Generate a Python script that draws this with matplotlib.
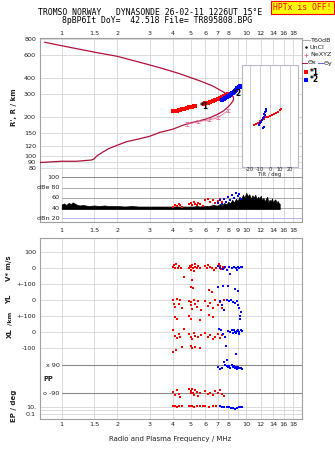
import numpy as np
import matplotlib
matplotlib.use("Agg")
import matplotlib.pyplot as plt
from matplotlib.transforms import blended_transform_factory as blend

# ---------------- data ----------------
freq_ticks = [1, 1.5, 2, 3, 4, 5, 6, 7, 8, 9, 10, 12, 14, 16, 18]
freq_labels_outer = ["1", "1.5", "2", "3", "4", "5", "6", "7", "8", "", "10", "12", "14", "16", "18"]
freq_labels_mid = ["1", "1.5", "2", "3", "4", "5", "6", "7", "8", "9", "10", "12", "14", "16", "18"]
height_ticks = [800, 600, 400, 300, 200, 150, 120, 100, 90, 80]

# electron density profile: bottomside up to the peak, then topside back down in frequency
profile_f = [0.758, 1.0, 1.2, 1.45, 1.5, 1.55, 1.65, 1.8, 2.0, 2.25, 2.6, 3.0, 3.4, 4.0, 4.5,
             5.0, 5.5, 6.0, 6.5, 7.0, 7.5, 8.0, 8.3, 8.5, 8.55, 8.5, 8.3, 8.0, 7.5, 6.6,
             5.6, 4.3, 3.4, 2.66, 2.0, 1.5, 1.0, 0.81]
profile_h = [89, 91, 91, 93, 95, 100, 106, 114, 121, 129, 135, 142, 152, 161, 172,
             180, 186, 192, 200, 210, 222, 240, 255, 268, 278, 288, 294, 297, 313, 347,
             381, 435, 481, 529, 589, 635, 711, 756]

# NeXYZ points with their error bars
nexyz_f = [4.8, 5.5, 6.3, 7.0, 8.0]
nexyz_h = [176, 184, 190, 197, 225]
nexyz_err = [6, 5, 5, 5, 6]

# echo traces (virtual height)
trace1_f = [4.0, 4.1, 4.2, 4.3, 4.4, 4.5, 4.6, 4.8, 4.9, 5.0, 5.1, 5.2, 5.3, 5.9, 6.0, 6.2,
            6.4, 6.6, 6.8, 7.0, 7.2, 7.4, 7.6, 7.8, 8.0]
trace1_h = [222, 224, 223, 226, 228, 229, 231, 236, 238, 240, 239, 242, 244, 252, 255, 258,
            262, 266, 270, 275, 280, 284, 290, 295, 300]
trace2_f = [7.4, 7.6, 7.7, 7.9, 8.0, 8.1, 8.2, 8.3, 8.4, 8.5, 8.6, 8.7, 8.8, 8.9, 9.0, 9.1,
            9.2, 9.3, 9.45]
trace2_h = [269, 276, 279, 286, 290, 293, 296, 300, 305, 309, 313, 318, 324, 333, 336, 340,
            343, 345, 339]

# tilt inset (real height)
tilt1_deg = [-16, -14, -12, -10, -8, -6, -4, -2, 0, 2, 4, 6, 8, 10, 11]
tilt1_h = [172, 177, 180, 186, 190, 193, 198, 200, 204, 207, 211, 215, 220, 226, 229]
tilt2_deg = [-11, -10, -9, -8, -7, -6, -5, -6, -5, -4, -4, -6, -7]
tilt2_h = [173, 178, 184, 190, 196, 200, 206, 212, 218, 224, 230, 168, 164]

# echo amplitude (dBe): upper and lower envelope
amp_f = [1.0, 1.03, 1.06, 1.09, 1.12, 1.15, 1.2, 1.25, 1.3, 1.4,
         1.5, 1.6, 1.7, 1.8, 1.9, 2.0, 2.2, 2.4, 2.6, 2.8,
         3.0, 3.2, 3.4, 3.6, 3.8, 4.0, 4.2, 4.4, 4.6, 4.8,
         5.0, 5.2, 5.4, 5.6, 5.8, 6.0, 6.3, 6.6, 6.9,
         7.0, 7.2, 7.4, 7.6, 7.8, 8.0, 8.2, 8.4, 8.6, 8.8,
         9.0, 9.2, 9.4, 9.6, 9.8, 10.0, 10.2, 10.4, 10.6, 10.8,
         11.0, 11.2, 11.4, 11.6, 11.8, 12.0, 12.2, 12.4, 12.6, 12.8,
         13.0, 13.2, 13.4, 13.6, 13.8, 14.0, 14.2, 14.4, 14.6, 14.8,
         15.0, 15.2]
amp_hi = [47, 49, 46, 50, 48, 51, 47, 45, 46, 44,
          45, 44, 45, 44, 44, 44, 43, 44, 43, 43,
          43, 43, 43, 43, 43, 43, 43, 43, 43, 43,
          43, 43, 44, 43, 44, 44, 44, 46, 45,
          45, 48, 45, 50, 47, 52, 49, 56, 51, 58,
          54, 62, 57, 66, 60, 70, 63, 67, 58, 65,
          60, 66, 57, 62, 59, 64, 55, 60, 53, 58,
          62, 51, 56, 53, 59, 50, 55, 57, 49, 54,
          50, 48]
amp_lo = [38] * len(amp_f)

amp1_f = [4.0, 4.1, 4.2, 4.3, 4.4, 4.5, 4.9, 5.0, 5.1, 5.2, 5.3, 5.4, 5.5, 5.6, 5.8, 6.0,
          6.2, 6.4, 6.6, 6.8, 7.0, 7.2, 7.4]
amp1_db = [42, 46, 44, 48, 45, 43, 47, 50, 46, 52, 48, 45, 50, 47, 44, 55,
           58, 52, 56, 50, 54, 58, 52]
amp2_f = [7.0, 7.2, 7.4, 7.6, 7.8, 8.0, 8.2, 8.4, 8.6, 8.8, 9.0, 9.2, 9.4]
amp2_db = [50, 55, 48, 58, 52, 62, 56, 66, 60, 70, 64, 68, 58]

# drift velocity V* (m/s)
vstar1 = [(4.0, 10), (4.05, 22), (4.1, 5), (4.15, 30), (4.25, 0), (4.35, 15), (4.45, 5),
          (4.6, -55), (4.9, 0), (4.95, 15), (5.0, -10), (5.05, 10), (5.1, 22), (5.15, 5),
          (5.2, -15), (5.25, 10), (5.3, 28), (5.4, 0), (5.5, 15), (5.6, 5), (6.0, 15),
          (6.1, 5), (6.2, 20), (6.35, 10), (6.5, 0), (6.7, -10), (6.9, 5), (7.1, 30),
          (7.2, 15), (7.3, -5), (7.45, 10), (7.6, 0), (5.1, -75)]
vstar2 = [(7.0, 12), (7.2, 5), (7.5, -2), (7.7, 10), (7.9, -12), (8.1, 8), (8.2, -34),
          (8.4, 5), (8.6, 10), (8.8, 0), (8.9, -12), (9.0, 10), (9.2, 5), (9.4, 8), (9.5, 10)]

# echo location YL, XL (km)
yl1 = [(4.0, 5), (4.05, -20), (4.1, -40), (4.2, 10), (4.3, -25), (4.4, 0), (4.5, -50),
       (4.9, -5), (5.0, -30), (5.05, -10), (5.1, -55), (5.2, 0), (5.3, -20), (5.4, -40),
       (5.5, -5), (5.7, -60), (6.0, -5), (6.2, -35), (6.4, -15), (6.6, -50), (6.8, 0),
       (7.0, -30), (7.2, -10), (7.4, -45), (7.6, 5), (5.05, 85), (5.15, 75), (6.3, 65),
       (6.5, 55)]
yl2 = [(7.2, -5), (7.4, -30), (7.6, -60), (7.9, 0), (8.1, -5), (8.3, 0), (8.5, -10),
       (8.7, -15), (8.9, -5), (9.0, -30), (9.2, -50), (9.4, -70), (7.07, 83), (7.48, 89),
       (8.0, 89), (8.72, 69), (8.98, 58)]
xl1 = [(4.0, 10), (4.1, -25), (4.2, -40), (4.3, -15), (4.4, -30), (4.6, 20), (4.9, -10),
       (5.0, -30), (5.1, -45), (5.2, -5), (5.3, -25), (5.5, -35), (5.7, -20), (6.0, -5),
       (6.2, -35), (6.4, -20), (6.6, -45), (6.8, -30), (7.0, -10), (7.2, -40), (7.4, -20),
       (4.1, 95), (4.2, 80), (4.9, 100), (5.0, 85), (5.6, 75), (6.3, 110), (6.6, 95),
       (4.0, -125), (4.15, -115), (4.5, -95), (5.0, -90), (5.1, -100), (5.3, -95),
       (5.6, -100)]
xl2 = [(7.1, 20), (7.3, 15), (7.5, -10), (7.7, -30), (8.0, 5), (8.2, 0), (8.4, 15),
       (8.5, -5), (8.6, 10), (8.7, 0), (8.8, -5), (8.9, 5), (9.0, 10), (9.1, -10),
       (9.2, 0), (9.4, 15), (9.5, 5), (9.3, 100), (9.3, 80), (7.8, -90), (8.8, -140)]

# polarization PP and EP (deg)
pp1 = [(4.0, -80), (4.1, -100), (4.2, -70), (4.3, -95), (4.4, -115), (4.9, -60), (5.0, -75),
       (5.05, -90), (5.1, -65), (5.15, -85), (5.2, -100), (5.3, -70), (5.4, -80),
       (5.5, -110), (5.6, -90), (6.0, -75), (6.2, -95), (6.4, -85), (6.6, -100),
       (6.8, -75), (7.0, -90), (7.2, -70), (7.4, -95), (7.6, -110)]
pp2 = [(7.0, 80), (7.2, 65), (7.4, 72), (7.7, 88), (7.9, 82), (8.0, 78), (8.1, 85),
       (8.2, 70), (8.4, 90), (8.5, 75), (8.6, 85), (8.7, 70), (8.8, 80), (8.9, 68),
       (9.0, 75), (9.2, 70), (9.4, 72), (9.5, 68), (7.6, 110), (7.9, 125)]
ep1 = [(4.0, 14), (4.1, 16), (4.2, 12), (4.3, 15), (4.5, 14), (4.9, 16), (5.0, 13),
       (5.1, 15), (5.2, 12), (5.4, 14), (5.6, 16), (5.8, 13), (6.0, 15), (6.3, 12),
       (6.6, 14), (6.9, 13), (7.2, 15), (7.5, 12)]
ep2 = [(7.2, 14), (7.4, 10), (7.6, 12), (7.9, 8), (8.1, 10), (8.3, 6), (8.5, 4),
       (8.7, 3), (8.9, 5), (9.1, 8), (9.3, 10), (9.5, 12)]

# ---------------- styling ----------------
W, H = 335, 451
RED, BLUE = "#ff0000", "#0000ff"
PROFILE = "#b0103c"
PINK = "#e07098"
GRID = "#d6d6d6"
FRAME = "#a0a0a0"
DARK = "#8a8a8a"
TXT = "#222222"
FS = 4.6
XLIM = (0.758, 20.0)

fig = plt.figure(figsize=(W / 100, H / 100), dpi=100)


def box(x0, y0, x1, y1):
    return [x0 / W, 1 - y1 / H, (x1 - x0) / W, (y1 - y0) / H]


def base(ax, spines):
    ax.set_xscale("log")
    ax.set_xlim(*XLIM)
    ax.set_xticks([])
    ax.minorticks_off()
    for s in ("top", "bottom", "left", "right"):
        ax.spines[s].set_visible(s in spines)
        ax.spines[s].set_color(FRAME)
        ax.spines[s].set_linewidth(0.8)
    for f in freq_ticks:
        ax.axvline(f, color=GRID, lw=0.6, zorder=0)
    ax.tick_params(axis="y", length=0, labelsize=FS, colors=TXT, pad=2.5)
    ax.patch.set_alpha(0)


def freq_row(ax, ypix, labels):
    tr = blend(ax.transData, fig.transFigure)
    for f, lab in zip(freq_ticks, labels):
        ax.text(f, 1 - ypix / H, lab, transform=tr, ha="center", va="center",
                fontsize=FS, color=TXT)


# --- title
fig.text(150 / W, 1 - 12.5 / H, "TROMSO NORWAY   DYNASONDE 26-02-11 1226UT 15°E",
         family="DejaVu Sans Mono", fontsize=5.9, ha="center", va="center", color="black")
fig.text(157 / W, 1 - 20.8 / H, "8pBP6It DoY=  42.518 File= TR895808.BPG",
         family="DejaVu Sans Mono", fontsize=5.9, ha="center", va="center", color="black")
fig.text(302.5 / W, 1 - 7.3 / H, "HPTx is OFF!", family="DejaVu Sans Mono", fontsize=5.9,
         ha="center", va="center", color="#ff0000",
         bbox=dict(boxstyle="square,pad=0.25", fc="#ffff00", ec="#ff0000", lw=0.8))

# --- height panel
ax_h = fig.add_axes(box(39.5, 38, 301.7, 177.3))
base(ax_h, ("top", "left", "right"))
ax_h.set_yscale("log")
ax_h.set_ylim(68.4, 816)
ax_h.minorticks_off()
ax_h.set_yticks(height_ticks)
ax_h.set_yticklabels([str(v) for v in height_ticks])
for hv in height_ticks:
    ax_h.axhline(hv, color=GRID, lw=0.6, zorder=0)
ax_h.plot(profile_f, profile_h, color=PROFILE, lw=0.9, zorder=3)
ax_h.errorbar(nexyz_f, nexyz_h, yerr=nexyz_err, color=PINK, lw=0.6, capsize=1.2,
              capthick=0.6, zorder=3)
ax_h.plot(trace1_f, trace1_h, "s", color=RED, ms=2.2, mew=0, zorder=4)
ax_h.plot(trace2_f, trace2_h, "s", color=BLUE, ms=2.2, mew=0, zorder=4)
ax_h.text(5.6, 242, "*1", fontsize=5.5, fontweight="bold", va="center", ha="left", zorder=5)
ax_h.text(8.5, 302, "*2", fontsize=5.5, fontweight="bold", va="center", ha="left", zorder=5)
ax_h.set_ylabel("R', R / km", fontsize=FS + 0.4, fontweight="bold", color=TXT, labelpad=5)
freq_row(ax_h, 33.8, freq_labels_outer)

# tilt inset
ax_t = fig.add_axes(box(241.7, 65, 298, 167))
ax_t.set_facecolor("white")
ax_t.set_yscale("log")
ax_t.set_ylim(82, 504)
ax_t.set_xlim(-28, 28)
ax_t.minorticks_off()
ax_t.set_yticks([])
ax_t.set_xticks([])
for s in ax_t.spines.values():
    s.set_color("#b8b8c8")
    s.set_linewidth(0.8)
for tv in (-20, -10, 0, 10, 20):
    ax_t.axvline(tv, color="#c8c8d0", lw=0.6, zorder=0)
ax_t.plot(tilt1_deg, tilt1_h, "s", color=RED, ms=1.8, mew=0)
ax_t.plot(tilt2_deg, tilt2_h, "s", color=BLUE, ms=1.6, mew=0)
tr_t = blend(ax_t.transData, fig.transFigure)
for tv, lab in zip((-20, -10, 0, 10, 20), ("-20", "-10", "0", "10", "20")):
    ax_t.text(tv, 1 - 169.7 / H, lab, transform=tr_t, ha="center", va="center",
              fontsize=3.6, color=TXT)
ax_t.text(0, 1 - 174.6 / H, "Tilt / deg", transform=tr_t, ha="center", va="center",
          fontsize=3.8, color=TXT)

# legend
fig.lines.append(plt.Line2D([302 / W, 309.5 / W], [1 - 40 / H] * 2, color="#aaaaaa", lw=0.8,
                            transform=fig.transFigure))
fig.text(310 / W, 1 - 40 / H, "T60dB", fontsize=FS, va="center", color=TXT)
fig.lines.append(plt.Line2D([305.5 / W], [1 - 47.3 / H], marker=".", ms=1.5, color="black",
                            transform=fig.transFigure))
fig.text(310 / W, 1 - 47.3 / H, "UnCl", fontsize=FS, va="center", color=TXT)
fig.lines.append(plt.Line2D([305.5 / W], [1 - 55 / H], marker="+", ms=3, mew=0.6,
                            color=PINK, transform=fig.transFigure))
fig.text(310 / W, 1 - 55 / H, "NeXYZ", fontsize=FS, va="center", color=TXT)
fig.lines.append(plt.Line2D([302 / W, 306.7 / W], [1 - 63 / H] * 2, color=PROFILE, lw=0.7,
                            transform=fig.transFigure))
fig.text(308 / W, 1 - 63 / H, "Θx", fontsize=FS, va="center", color=TXT)
fig.lines.append(plt.Line2D([317.5 / W, 323 / W], [1 - 63 / H] * 2, color="#6060e0", lw=0.7,
                            transform=fig.transFigure))
fig.text(324 / W, 1 - 63 / H, "Θy", fontsize=FS, va="center", color=TXT)
fig.lines.append(plt.Line2D([305.5 / W], [1 - 72.3 / H], marker="s", ms=2.4, mew=0,
                            color=RED, transform=fig.transFigure))
fig.text(310 / W, 1 - 72.3 / H, "*1", fontsize=5.5, fontweight="bold", va="center")
fig.lines.append(plt.Line2D([305.5 / W], [1 - 80 / H], marker="s", ms=2.4, mew=0,
                            color=BLUE, transform=fig.transFigure))
fig.text(310 / W, 1 - 80 / H, "*2", fontsize=5.5, fontweight="bold", va="center")

# --- amplitude panel
ax_d = fig.add_axes(box(39.5, 177.3, 301.7, 222.3))
base(ax_d, ("bottom", "left", "right"))
ax_d.set_ylim(12.2, 100)
ax_d.set_yticks([])
for dv in (100, 80, 60, 40):
    ax_d.plot([1.0, XLIM[1]], [dv, dv], color=DARK if dv == 100 else "#a8a8a8", lw=0.7,
              zorder=1, clip_on=False)
ax_d.plot([1.0, XLIM[1]], [20, 20], color="#b4b4e8", lw=0.7, zorder=1)
for dv, lab in ((100, "100"), (80, "dBe 80"), (60, "60"), (40, "40"), (20, "dBn 20")):
    ax_d.text(0.975, dv, lab, ha="right", va="center", fontsize=FS, color=TXT)
ax_d.fill_between(amp_f, amp_lo, amp_hi, color="black", lw=0.5, zorder=2)
ax_d.plot(amp1_f, amp1_db, "s", color=RED, ms=1.8, mew=0, zorder=3)
ax_d.plot(amp2_f, amp2_db, "s", color=BLUE, ms=1.8, mew=0, zorder=3)
freq_row(ax_d, 230.3, freq_labels_mid)

# --- lower panel bands
ax_v = fig.add_axes(box(39.5, 238, 301.7, 284.3))
ax_y = fig.add_axes(box(39.5, 284.3, 301.7, 316.3))
ax_x = fig.add_axes(box(39.5, 316.3, 301.7, 356))
ax_p = fig.add_axes(box(39.5, 356, 301.7, 400))
ax_e = fig.add_axes(box(39.5, 400, 301.7, 419.3))
base(ax_v, ("top", "left", "right"))
base(ax_y, ("left", "right"))
base(ax_x, ("left", "right"))
base(ax_p, ("left", "right"))
base(ax_e, ("left", "right", "bottom"))

ax_v.set_ylim(-100, 191)
ax_v.set_yticks([100, 0, -100])
ax_v.set_yticklabels(["100", "0", "+-100"])
ax_y.set_ylim(-100, 100)
ax_y.set_yticks([0, -100])
ax_y.set_yticklabels(["0", "+-100"])
ax_x.set_ylim(-153, 100)
ax_x.set_yticks([0, -100])
ax_x.set_yticklabels(["0", "-100"])
for a, vals in ((ax_v, (100, 0, -100)), (ax_y, (0, -100)), (ax_x, (0, -100))):
    for v in vals:
        a.axhline(v, color=GRID, lw=0.6, zorder=0, clip_on=False)

ax_p.set_ylim(-132.5, 148)
ax_p.set_yticks([])
for v, lab in ((90, "x 90"), (-90, "o -90")):
    ax_p.plot([1.0, XLIM[1]], [v, v], color=DARK, lw=0.8, zorder=1)
    ax_p.text(0.975, v, lab, ha="right", va="center", fontsize=FS, color=TXT)
ax_p.text(0.8, 0, "PP", ha="left", va="center", fontsize=FS + 0.3, color=TXT,
          fontweight="bold")

ax_e.set_yscale("log")
ax_e.set_ylim(0.00187, 1070)
ax_e.minorticks_off()
ax_e.set_yticks([10, 0.1])
ax_e.set_yticklabels(["10.", "0.1"])
for v in (10, 1, 0.1):
    ax_e.axhline(v, color=GRID, lw=0.6, zorder=0)

for a, s1, s2 in ((ax_v, vstar1, vstar2), (ax_y, yl1, yl2), (ax_x, xl1, xl2),
                  (ax_p, pp1, pp2), (ax_e, ep1, ep2)):
    f1, v1 = zip(*s1)
    f2, v2 = zip(*s2)
    a.plot(f1, v1, "s", color=RED, ms=1.7, mew=0, clip_on=False, zorder=3)
    a.plot(f2, v2, "s", color=BLUE, ms=1.7, mew=0, clip_on=False, zorder=3)

freq_row(ax_e, 424.5, freq_labels_outer)


# band titles
def side(x, y, s, rot=90, fs=FS + 0.4):
    fig.text(x / W, 1 - y / H, s, rotation=rot, ha="center", va="center", fontsize=fs,
             fontweight="bold", color=TXT)


side(9.5, 268, "V* m/s")
side(9.5, 299, "YL")
side(9.5, 318, "/km", fs=FS)
side(9.5, 333, "XL")
side(14, 406, "EP / deg")
fig.text(170 / W, 1 - 439 / H, "Radio and Plasma Frequency / MHz", ha="center", va="center",
         fontsize=FS + 0.4, color=TXT)

fig.savefig("out.png", dpi=100)
